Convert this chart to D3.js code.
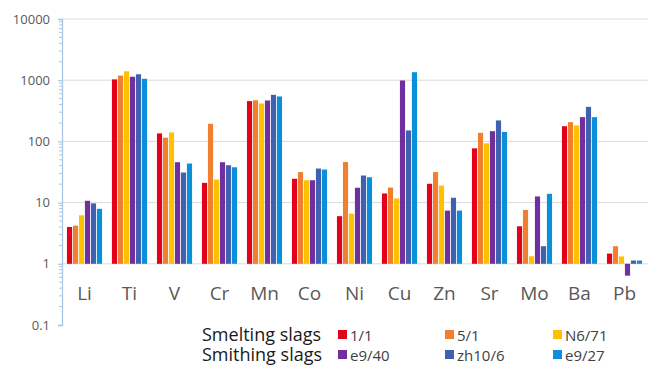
<!DOCTYPE html>
<html>
<head>
<meta charset="utf-8">
<script src="https://cdn.jsdelivr.net/npm/d3@7"></script>
<style>
  html, body { margin: 0; padding: 0; background: #fff; }
  svg { display: block; font-family: "Open Sans", "Noto Sans", sans-serif; }
</style>
</head>
<body>
<svg id="chart" width="648" height="367"></svg>
<script>
// Element concentrations in slag samples (log scale)
const elements = ["Li", "Ti", "V", "Cr", "Mn", "Co", "Ni", "Cu", "Zn", "Sr", "Mo", "Ba", "Pb"];
const samples = ["1/1", "5/1", "N6/71", "e9/40", "zh10/6", "e9/27"];
const sampleColors = ["#e3001b", "#f08030", "#ffc000", "#6f2f9f", "#3f61b0", "#0a90da"];
const groupNames = ["Smelting slags", "Smithing slags"];

const s_1_1   = [4.0, 1030, 135, 21,  455, 24.5, 6.0,  14.1, 20.3, 77,  4.1,  177, 1.47];
const s_5_1   = [4.2, 1190, 115, 194, 470, 31.5, 46,   17.6, 31.5, 138, 7.6,  206, 1.94];
const s_N6_71 = [6.2, 1400, 140, 23.8, 416, 23.2, 6.6, 11.7, 19,   93,  1.33, 182, 1.32];
const s_e9_40 = [10.7, 1140, 45.7, 45.7, 466, 23.2, 17.5, 990, 7.4, 147, 12.6, 249, 0.64];
const s_zh10_6 = [9.7, 1250, 31, 40.8, 577, 36, 27.7, 151, 12, 220, 1.94, 367, 1.13];
const s_e9_27 = [7.9, 1055, 43.5, 37.8, 542, 34.7, 26, 1350, 7.4, 143, 13.9, 249, 1.13];
const seriesValues = [s_1_1, s_5_1, s_N6_71, s_e9_40, s_zh10_6, s_e9_27];

const yTicks = [0.1, 1, 10, 100, 1000, 10000];
const yTickLabels = ["0.1", "1", "10", "100", "1000", "10000"];

const svg = d3.select("#chart");
const plotLeft = 62, plotRight = 647, plotTop = 19, plotBottom = 325;

const y = d3.scaleLog().domain([0.1, 10000]).range([plotBottom, plotTop]);
const x0 = d3.scaleBand().domain(elements).range([plotLeft, plotRight])
  .paddingInner(0.22).paddingOuter(0.11);
const x1 = d3.scaleBand().domain(samples).range([0, x0.bandwidth()]).paddingInner(0.14);

// gridlines
svg.append("g")
  .selectAll("line")
  .data(yTicks.filter(d => d >= 1))
  .join("line")
  .attr("x1", plotLeft).attr("x2", 648)
  .attr("y1", d => y(d)).attr("y2", d => y(d))
  .attr("stroke", "#dadada").attr("stroke-width", 1);

// bars grow from the value 1
const base = y(1);
const groups = svg.append("g")
  .selectAll("g")
  .data(elements)
  .join("g")
  .attr("transform", d => `translate(${x0(d)},0)`);

groups.selectAll("rect")
  .data((d, i) => samples.map((s, j) => ({ s, j, v: seriesValues[j][i] })))
  .join("rect")
  .attr("x", d => x1(d.s))
  .attr("width", x1.bandwidth())
  .attr("y", d => Math.min(y(d.v), base))
  .attr("height", d => Math.abs(base - y(d.v)))
  .attr("fill", d => sampleColors[d.j]);

// y axis with log minor ticks
const axis = d3.axisLeft(y)
  .tickValues(yTicks)
  .tickFormat((d, i) => yTickLabels[i])
  .tickSize(4)
  .tickPadding(8);
const ax = svg.append("g").attr("transform", `translate(${plotLeft},0)`).call(axis);
ax.select(".domain").attr("stroke", "#a9c8e6").attr("stroke-width", 1.3);
ax.selectAll(".tick line").attr("stroke", "#a9c8e6").attr("stroke-width", 1.2);
ax.selectAll(".tick text")
  .attr("fill", "#595959")
  .style("font-size", "13px")
  .style("font-family", "'Open Sans', sans-serif");

const minor = [];
for (let e = -1; e < 4; e++) {
  for (let m = 2; m <= 9; m++) minor.push(m * Math.pow(10, e));
}
ax.append("g")
  .selectAll("line")
  .data(minor)
  .join("line")
  .attr("x1", -3).attr("x2", 0)
  .attr("y1", d => y(d)).attr("y2", d => y(d))
  .attr("stroke", "#a9c8e6").attr("stroke-width", 1);

// category labels
svg.append("g")
  .selectAll("text")
  .data(elements)
  .join("text")
  .attr("x", d => x0(d) + x0.bandwidth() / 2)
  .attr("y", 300)
  .attr("text-anchor", "middle")
  .attr("fill", "#595959")
  .style("font-size", "19px")
  .text(d => d);

// legend
const legendRows = [341, 361];
const legendCols = [338, 445, 553];
const legend = svg.append("g");
groupNames.forEach((g, r) => {
  legend.append("text")
    .attr("x", 202).attr("y", legendRows[r])
    .attr("fill", "#1a1a1a")
    .style("font-size", "18px")
    .text(g);
  for (let c = 0; c < 3; c++) {
    const k = r * 3 + c;
    legend.append("rect")
      .attr("x", legendCols[c]).attr("y", legendRows[r] - 11)
      .attr("width", 9).attr("height", 9)
      .attr("fill", sampleColors[k]);
    legend.append("text")
      .attr("x", legendCols[c] + 12).attr("y", legendRows[r])
      .attr("fill", "#404040")
      .style("font-size", "15px")
      .text(samples[k]);
  }
});
</script>
</body>
</html>
